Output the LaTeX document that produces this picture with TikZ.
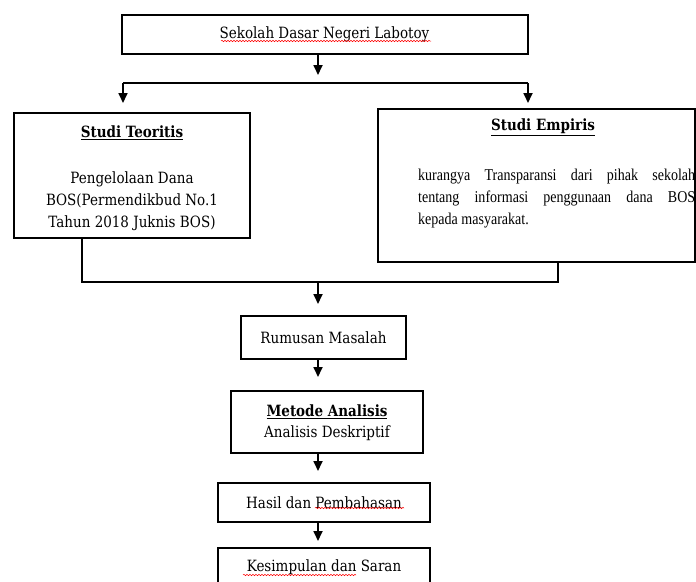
\documentclass[tikz,border=0pt]{standalone}
\usepackage{fontspec}
\setmainfont[FakeStretch=0.87]{DejaVu Serif}
\newfontfamily\timesfont[FakeStretch=0.85]{Liberation Serif}
\usetikzlibrary{arrows.meta,decorations.pathmorphing}

\begin{document}
\begin{tikzpicture}[x=1pt,y=-1pt,
box/.style={draw,line width=2pt,inner sep=0pt},
arr/.style={line width=1.7pt,-{Triangle[length=10pt,width=9pt]}},
conn/.style={line width=1.7pt},
judul/.style={font=\bfseries\fontsize{15.5}{17}\selectfont,inner sep=0pt},
isi/.style={font=\fontsize{15.5}{22}\selectfont,inner sep=0pt},
squiggle/.style={red,line width=0.5pt,decorate,decoration={snake,amplitude=0.7pt,segment length=3pt}}]
\clip (0,0) rectangle (696,581);
\useasboundingbox (0,0) rectangle (696,581);

%top box and the fork
\node[box,isi,minimum width=406pt,minimum height=39pt] (sekolah) at (324.5,34) {Sekolah Dasar Negeri Labotoy};
\coordinate (fork) at (318,83);
\coordinate (forkL) at (123,83);
\coordinate (forkR) at (528,83);
\draw[arr] (sekolah.south -| fork) -- ([yshift=8pt]fork);
\draw[conn] (forkL) -- (forkR);

%Studi Teoritis
\node[box,minimum width=236pt,minimum height=125pt] (teoritis) at (132,175.5) {};
\node[judul] (teoritisjudul) at (132,133) {\underline{Studi Teoritis}};
\node[isi,align=center] (teoritisisi) at (132,201) {Pengelolaan Dana\\BOS(Permendikbud No.1\\Tahun 2018 Juknis BOS)};

%Studi Empiris
\node[box,minimum width=317pt,minimum height=153pt] (empiris) at (536.5,185.5) {};
\node[judul] (empirisjudul) at (543,127) {\underline{Studi Empiris}};
\node[font=\timesfont\fontsize{16.5}{22}\selectfont,text width=277pt,align=justify,inner sep=0pt,anchor=north west] (empirisisi) at (418,169)
  {\hyphenpenalty=10000 kurangya Transparansi dari pihak sekolah\linebreak tentang informasi penggunaan dana BOS\linebreak kepada masyarakat.};

\draw[arr] (forkL) -- ([yshift=9pt]forkL |- teoritis.north);
\draw[arr] (forkR) -- ([yshift=5pt]forkR |- empiris.north);

%merge
\coordinate (mergeL) at (82,282);
\coordinate (mergeR) at (558,282);
\coordinate (merge) at (318,282);
\draw[conn] (mergeL |- teoritis.south) -- (mergeL) -- (mergeR) -- (mergeR |- empiris.south);

%lower chain
\node[box,isi,minimum width=165pt,minimum height=43pt] (rumusan) at (323.5,337.5) {Rumusan Masalah};
\node[box,minimum width=192pt,minimum height=62pt] (metode) at (327,422) {};
\node[judul] (metodejudul) at (327,412) {\underline{Metode Analisis}};
\node[isi] (metodeisi) at (327,433) {Analisis Deskriptif};
\node[box,isi,minimum width=212pt,minimum height=39pt] (hasil) at (324,502.5) {Hasil dan Pembahasan};
\node[box,isi,minimum width=212pt,minimum height=39pt] (kesimpulan) at (324,567.5) {Kesimpulan dan Saran};

\draw[arr] (merge) -- ([yshift=11pt]merge |- rumusan.north);
\draw[arr] (merge |- rumusan.south) -- ([yshift=13pt]merge |- metode.north);
\draw[arr] (merge |- metode.south) -- ([yshift=11pt]merge |- hasil.north);
\draw[arr] (merge |- hasil.south) -- ([yshift=6pt]merge |- kesimpulan.north);

%spelling marks
\draw[squiggle] (221,41) -- (431,41);
\draw[squiggle] (315,508) -- (404,508);
\draw[squiggle] (243,575) -- (356,575);
\end{tikzpicture}
\end{document}
